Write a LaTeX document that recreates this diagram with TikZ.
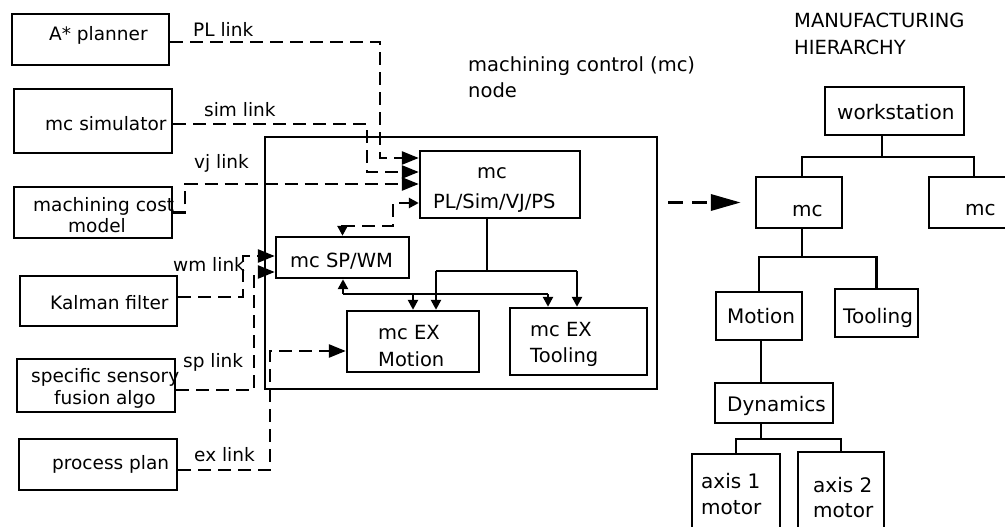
\documentclass[tikz,border=0pt]{standalone}
\usepackage{fontspec}
\setmainfont{DejaVu Sans}
\usetikzlibrary{arrows.meta}
\newcommand\myfL{\fontsize{18.5}{21}\selectfont}
\newcommand\myfI{\fontsize{19.5}{23}\selectfont}
\newcommand\myfH{\fontsize{20}{23}\selectfont}
\begin{document}
\begin{tikzpicture}[x=1pt,y=-1pt,
  box/.style={draw, line width=2.4pt, inner sep=0pt},
  link/.style={line width=2.6pt, dash pattern=on 13pt off 7pt},
  bigarr/.style={-{Triangle[length=17pt,width=13pt]}},
  smarr/.style={-{Triangle[length=10pt,width=10pt]}},
  solid line/.style={line width=2.4pt},
  tx/.style={anchor=base west, inner sep=0pt, font=\myfL},
  ti/.style={anchor=base west, inner sep=0pt, font=\myfI},
  th/.style={anchor=base west, inner sep=0pt, font=\myfH}]
\useasboundingbox (0,0) rectangle (1005,527);
\clip (0,0) rectangle (1005,527);

% left boxes
\node[box, minimum width=157pt, minimum height=51pt] (astar) at (90.5,39.5) {};
\node[box, minimum width=158pt, minimum height=64pt] (mcsim) at (93,121) {};
\node[box, minimum width=158pt, minimum height=51pt] (cost) at (93,212.5) {};
\node[box, minimum width=157pt, minimum height=50pt] (kalman) at (98.5,301) {};
\node[box, minimum width=158pt, minimum height=53pt] (sensor) at (96,385.5) {};
\node[box, minimum width=158pt, minimum height=51pt] (pplan) at (98,464.5) {};

% container and inner boxes
\node[box, minimum width=392pt, minimum height=252pt] (mcnode) at (461,263) {};
\node[box, minimum width=160pt, minimum height=67pt] (plbox) at (500,184.5) {};
\node[box, minimum width=133pt, minimum height=41pt] (spwm) at (342.5,257.5) {};
\node[box, minimum width=132pt, minimum height=61pt] (exmot) at (413,341.5) {};
\node[box, minimum width=137pt, minimum height=67pt] (extool) at (578.5,341.5) {};

% hierarchy boxes
\node[box, minimum width=139pt, minimum height=48pt] (ws) at (894.5,111) {};
\node[box, minimum width=86pt, minimum height=51pt] (mcL) at (799,202.5) {};
\node[box, minimum width=100pt, minimum height=51pt] (mcR) at (979,202.5) {};
\node[box, minimum width=86pt, minimum height=48pt] (hmot) at (759,316) {};
\node[box, minimum width=83pt, minimum height=48pt] (htool) at (876.5,313) {};
\node[box, minimum width=118pt, minimum height=40pt] (dyn) at (774,403) {};
\node[box, minimum width=88pt, minimum height=90pt] (ax1) at (736,499) {};
\node[box, minimum width=86pt, minimum height=92pt] (ax2) at (841,498) {};

% texts
\node[tx] (tA) at (49,41) {A* planner};
\node[tx] (tB) at (45,131) {mc simulator};
\node[tx] (tC1) at (33,211) {machining cost};
\node[tx] (tC2) at (68,232) {model};
\node[tx] (tD) at (50,309) {Kalman filter};
\node[tx] (tE1) at (31,382) {specific sensory};
\node[tx] (tE2) at (54,404) {fusion algo};
\node[tx] (tF) at (52,469) {process plan};

\node[tx] (lPL) at (193,37) {PL link};
\node[tx] (lsim) at (204,117) {sim link};
\node[tx] (lvj) at (194,168) {vj link};
\node[tx] (lwm) at (173,271) {wm link};
\node[tx] (lsp) at (183,367) {sp link};
\node[tx] (lex) at (194,461) {ex link};

\node[ti] (tP1) at (477,178) {mc};
\node[ti] (tP2) at (433,208) {PL/Sim/VJ/PS};
\node[ti] (tS) at (290,267) {mc SP/WM};
\node[ti] (tM1) at (378,339) {mc EX};
\node[ti] (tM2) at (378,366) {Motion};
\node[ti] (tT1) at (530,336) {mc EX};
\node[ti] (tT2) at (530,362) {Tooling};

\node[ti] (title1) at (468,72) {machining control (mc)};
\node[ti] (title2) at (468,98) {node};
\node[ti] (title3) at (794,28) {MANUFACTURING};
\node[ti] (title4) at (794,55) {HIERARCHY};

\node[th] (hws) at (837,120) {workstation};
\node[th] (hmcL) at (792,216) {mc};
\node[th] (hmcR) at (965,215) {mc};
\node[th] (hmo) at (727,323) {Motion};
\node[th] (hto) at (843,323) {Tooling};
\node[th] (hdy) at (727,411) {Dynamics};
\node[th] (ha1) at (701,488) {axis 1};
\node[th] (ha1b) at (701,514) {motor};
\node[th] (ha2) at (813,492) {axis 2};
\node[th] (ha2b) at (813,517) {motor};

% junction coordinates
\coordinate (pl1) at (380,158);
\coordinate (sim1) at (367,172);
\coordinate (vj1) at (185,184);
\coordinate (wm1) at (243,256);
\coordinate (sp1) at (254,272);
\coordinate (ex1) at (270,351);
\coordinate (d1) at (393,226);
\coordinate (d2) at (393,203);
\coordinate (j2) at (487,271);
\coordinate (j2a) at (436,271);
\coordinate (j2b) at (577,271);
\coordinate (j3) at (343,294);
\coordinate (j3a) at (413,294);
\coordinate (j3b) at (548,294);
\coordinate (j1) at (882,157);
\coordinate (j4) at (802,257);
\coordinate (j5) at (761,439);

% dashed links
\draw[link,bigarr] ([yshift=-2.5pt]astar.east) -| (pl1) -- (plbox.west |- pl1);
\draw[link,bigarr] ([yshift=-3pt]mcsim.east) -| (sim1) -- (plbox.west |- sim1);
\draw[link,bigarr] (cost.east) -| (vj1) -- (plbox.west |- vj1);
\draw[link,bigarr] ([yshift=4pt]kalman.east) -| (wm1) -- (spwm.west |- wm1);
\draw[link,bigarr] ([yshift=-4.5pt]sensor.east) -| (sp1) -- (spwm.west |- sp1);
\draw[link,bigarr] ([yshift=-5.5pt]pplan.east) -| (ex1) -- (exmot.west |- ex1);
\draw[link,{Triangle[length=10pt,width=10pt]}-{Triangle[length=10pt,width=10pt]}]
  (spwm.north) |- (d1) -- (d2) -- (plbox.west |- d2);

% solid internal connectors
\draw[solid line] (plbox.south -| j2) -- (j2);
\draw[solid line] (j2a) -- (j2b);
\draw[solid line,smarr] (j2a) -- (exmot.north -| j2a);
\draw[solid line,smarr] (j2b) -- (extool.north -| j2b);
\draw[solid line,smarr] (j3) -- (spwm.south -| j3);
\draw[solid line] (j3) -- (j3b);
\draw[solid line,smarr] (j3a) -- (exmot.north -| j3a);
\draw[solid line,smarr] (j3b) -- (extool.north -| j3b);

% big dashed arrow
\draw[line width=3.4pt, dash pattern=on 15pt off 9pt, -{Triangle[length=30pt,width=16pt]}]
  ([xshift=10pt]mcnode.east |- mcL.west) -- ([xshift=-14pt]mcL.west);

% hierarchy connectors
\draw[solid line] (ws.south -| j1) -- (j1);
\draw[solid line] (mcL.north -| j4) |- (j1) -| (mcR.north -| 974,0);
\draw[solid line] (mcL.south -| j4) -- (j4);
\draw[solid line] (hmot.north) |- (j4) -| (htool.north);
\draw[solid line] (hmot.south -| j5) -- (dyn.north -| j5);
\draw[solid line] (dyn.south -| j5) -- (j5);
\draw[solid line] (ax1.north) |- (j5) -| (ax2.north);
\end{tikzpicture}
\end{document}
